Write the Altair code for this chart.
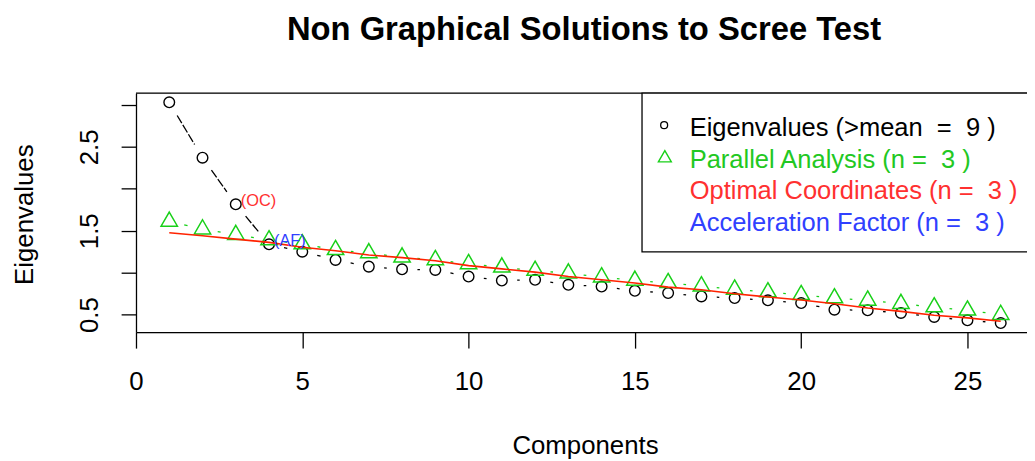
import altair as alt
import pandas as pd

# ---------------- data ----------------
components = list(range(1, 27))
eigenvalues = [3.03, 2.37, 1.815, 1.338, 1.25, 1.152, 1.072, 1.04, 1.033, 0.954,
               0.906, 0.915, 0.855, 0.835, 0.784, 0.757, 0.717, 0.697, 0.67, 0.638,
               0.559, 0.551, 0.52, 0.472, 0.432, 0.40]
parallel = [1.61, 1.518, 1.452, 1.388, 1.34, 1.272, 1.234, 1.183, 1.152, 1.104,
            1.064, 1.025, 0.993, 0.946, 0.907, 0.878, 0.839, 0.80, 0.768, 0.736,
            0.697, 0.669, 0.63, 0.59, 0.551, 0.499]
optimal = [1.475, 1.44, 1.40, 1.361, 1.302, 1.262, 1.211, 1.179, 1.143, 1.084,
           1.045, 1.006, 0.954, 0.915, 0.876, 0.828, 0.796, 0.749, 0.71, 0.674,
           0.63, 0.579, 0.539, 0.492, 0.461, 0.421]

NB = "\u00a0"
title_text = "Non Graphical Solutions to Scree Test"
x_title = "Components"
y_title = "Eigenvalues"
legend_labels = [f"Eigenvalues (>mean {NB}= {NB}9 )",
                 f"Parallel Analysis (n = {NB}3 )",
                 f"Optimal Coordinates (n = {NB}3 )",
                 f"Acceleration Factor (n = {NB}3 )"]
annot_labels = ["(OC)", "(AF)"]
annot_comp = [3, 4]
x_ticks = [0, 5, 10, 15, 20, 25]
y_ticks = [0.5, 1.0, 1.5, 2.0, 2.5, 3.0]
y_labelled = [0.5, 1.5, 2.5]

# ---------------- styling / layout ----------------
FONT = "Liberation Sans"
BLACK = "#000000"
GREEN = "#18d018"
GREEN_TXT = "#22c822"
RED = "#ff2200"
RED_TXT = "#ff3030"
BLUE_TXT = "#3040ff"

W, H = 898, 241
XMAX = 26.79
YMIN, YMAX = 0.29, 3.14
SX = W / XMAX
SY = H / (YMAX - YMIN)
GAP = 15.5  # pixel gap around points (type = "b")
TRI = "M0,-1.1547L1,0.5774L-1,0.5774Z"
XMID = 27 * SX / 2  # centre of the full (uncropped) plot box

df = pd.DataFrame({"comp": components, "ev": eigenvalues, "pa": parallel, "oc": optimal})

xs = alt.Scale(domain=[0, XMAX], nice=False, zero=False)
ys = alt.Scale(domain=[YMIN, YMAX], nice=False, zero=False)

lab_list = ",".join(str(v) for v in y_labelled)
x_axis = alt.Axis(values=x_ticks, format="d", tickSize=16, tickWidth=1.3, tickColor=BLACK,
                  domainColor=BLACK, domainWidth=1.3, grid=False,
                  labelFont=FONT, labelFontSize=26, labelColor=BLACK,
                  labelBaseline="alphabetic", labelPadding=42, labelFlush=False,
                  labelOverlap=False,
                  title=x_title, titleFont=FONT, titleFontSize=26, titleFontWeight="normal",
                  titleColor=BLACK, titleX=XMID, titleY=122.7,
                  titleBaseline="alphabetic", titleAlign="center")
y_axis = alt.Axis(values=y_ticks, tickSize=15, tickWidth=1.3, tickColor=BLACK,
                  domainColor=BLACK, domainWidth=1.3, grid=False,
                  labelExpr=f"indexof([{lab_list}], datum.value) >= 0 ? format(datum.value, '.1f') : ''",
                  labelFont=FONT, labelFontSize=26, labelColor=BLACK,
                  labelAngle=270, labelAlign="center", labelBaseline="alphabetic",
                  labelPadding=24, labelOverlap=False, labelFlush=False,
                  title=y_title, titleFont=FONT, titleFontSize=26, titleFontWeight="normal",
                  titleColor=BLACK, titleAngle=270, titleX=-104, titleY=122,
                  titleAlign="center", titleBaseline="alphabetic")

base = alt.Chart(df)


def seg_layer(field, color, dash=None, width=1.3):
    expr_f = (f"{GAP} / sqrt(pow((datum.cn - datum.comp) * {SX}, 2) + "
              f"pow((datum.vn - datum.{field}) * {SY}, 2))")
    mk = dict(color=color, strokeWidth=width, strokeCap="butt")
    if dash:
        mk["strokeDash"] = dash
    return (base.transform_window(cn="lead(comp)", vn=f"lead({field})",
                                  sort=[alt.SortField("comp")])
            .transform_filter("isValid(datum.cn)")
            .transform_calculate(f=expr_f)
            .transform_calculate(
                x1="datum.comp + datum.f * (datum.cn - datum.comp)",
                x2="datum.cn - datum.f * (datum.cn - datum.comp)",
                y1=f"datum.{field} + datum.f * (datum.vn - datum.{field})",
                y2=f"datum.vn - datum.f * (datum.vn - datum.{field})")
            .mark_rule(**mk)
            .encode(x=alt.X("x1:Q", scale=xs, axis=x_axis),
                    x2="x2:Q",
                    y=alt.Y("y1:Q", scale=ys, axis=y_axis),
                    y2="y2:Q"))


ev_seg = seg_layer("ev", BLACK, dash=[9, 2])
pa_seg = seg_layer("pa", GREEN)

ev_pts = base.mark_point(shape="circle", filled=False, size=115, color=BLACK,
                         strokeWidth=1.4, opacity=1).encode(
    x=alt.X("comp:Q", scale=xs), y=alt.Y("ev:Q", scale=ys))
pa_pts = base.mark_point(shape=TRI, filled=False, size=272, color=GREEN,
                         strokeWidth=1.5, opacity=1).encode(
    x=alt.X("comp:Q", scale=xs), y=alt.Y("pa:Q", scale=ys))
oc_line = base.mark_line(color=RED, strokeWidth=1.6).encode(
    x=alt.X("comp:Q", scale=xs), y=alt.Y("oc:Q", scale=ys))

annot_df = pd.DataFrame({"comp": annot_comp,
                         "ev": [eigenvalues[c - 1] for c in annot_comp],
                         "label": annot_labels})
annot = alt.Chart(annot_df).mark_text(font=FONT, fontSize=16.5, align="left",
                                      baseline="alphabetic", dx=5, dy=1.5).encode(
    x=alt.X("comp:Q", scale=xs), y=alt.Y("ev:Q", scale=ys), text="label:N",
    color=alt.Color("label:N", scale=alt.Scale(domain=annot_labels,
                                               range=[RED_TXT, BLUE_TXT]), legend=None))

one = pd.DataFrame({"k": [0]})
top_border = alt.Chart(one).mark_rule(color=BLACK, strokeWidth=1.3).encode(
    x=alt.value(0), x2=alt.value(W + 20), y=alt.value(0))
leg_box = alt.Chart(one).mark_rect(fill="white", stroke=BLACK, strokeWidth=1.3).encode(
    x=alt.value(510), x2=alt.value(W + 30), y=alt.value(0), y2=alt.value(160))
leg_circle = alt.Chart(one).mark_point(shape="circle", filled=False, size=49, color=BLACK,
                                       strokeWidth=1.3, opacity=1).encode(
    x=alt.value(532.3), y=alt.value(32.3))
leg_tri = alt.Chart(one).mark_point(shape=TRI, filled=False, size=170, color=GREEN,
                                    strokeWidth=1.4, opacity=1).encode(
    x=alt.value(533), y=alt.value(65.5))

leg_colors = [BLACK, GREEN_TXT, RED_TXT, BLUE_TXT]
leg_base_y = [43, 75, 107, 139]
leg_texts = []
for lbl, col, yy in zip(legend_labels, leg_colors, leg_base_y):
    leg_texts.append(
        alt.Chart(pd.DataFrame({"t": [lbl]})).mark_text(
            font=FONT, fontSize=25.7, align="left", baseline="alphabetic", color=col
        ).encode(x=alt.value(558), y=alt.value(yy), text="t:N"))

title_mark = alt.Chart(pd.DataFrame({"t": [title_text]})).mark_text(
    font=FONT, fontSize=33, fontWeight="bold", color=BLACK, align="center",
    baseline="alphabetic").encode(x=alt.value(XMID - 1), y=alt.value(-53.7), text="t:N")

chart = alt.layer(
    ev_seg, pa_seg, ev_pts, pa_pts, oc_line, annot, top_border,
    leg_box, leg_circle, leg_tri, *leg_texts, title_mark
).properties(
    width=W, height=H,
    padding={"left": 129, "top": 84, "right": 0, "bottom": 128},
    autosize=alt.AutoSizeParams(type="none"),
).configure_view(stroke=None).configure(background="white")

chart.save("out.html", embed_options={"renderer": "svg", "actions": False})
